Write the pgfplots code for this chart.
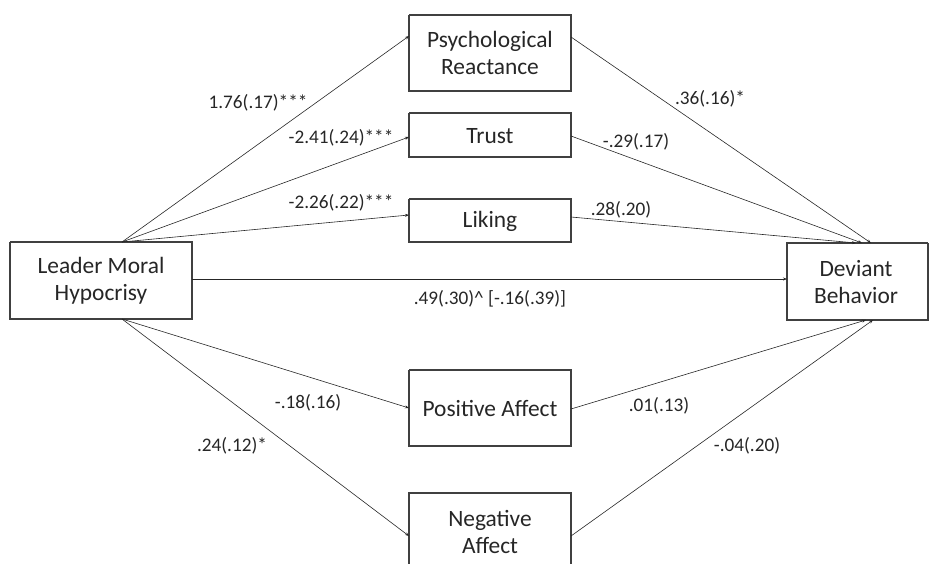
\documentclass[border=0pt]{standalone}
\usepackage{pgfplots}
\pgfplotsset{compat=1.18}
\usepackage{fontspec}
\setmainfont{Carlito}
\usetikzlibrary{arrows.meta}
\begin{document}
\begin{tikzpicture}
\begin{axis}[
  width=929bp, height=564bp, scale only axis,
  xmin=0, xmax=929, ymin=0, ymax=564, y dir=reverse,
  axis lines=none, ticks=none, clip=false,
]
% frame of the picture (invisible)
\addplot[draw=none, mark=none] coordinates {(0,0) (929,564)};
% boxes
\pgfplotsset{box/.style={color=black!75, line width=1.1pt, mark=none}}
\addplot[box] coordinates {(10,242) (192,242) (192,319) (10,319) (10,242)};
\addplot[box] coordinates {(409,15) (571,15) (571,91) (409,91) (409,15)};
\addplot[box] coordinates {(409,113) (571,113) (571,157) (409,157) (409,113)};
\addplot[box] coordinates {(409,199) (571,199) (571,242) (409,242) (409,199)};
\addplot[box] coordinates {(409,370) (571,370) (571,446) (409,446) (409,370)};
\addplot[box] coordinates {(409,563.5) (409,493) (571,493) (571,563.5)};
\addplot[box] coordinates {(928,243) (787,243) (787,320) (928,320) (928,243)};
% arrows
\pgfplotsset{arr/.style={color=black!85, line width=0.6pt, mark=none, -{Stealth[length=4pt,width=3pt]}}}
\addplot[arr] coordinates {(122,242) (409,36)};
\addplot[arr] coordinates {(122,242) (409,137)};
\addplot[arr] coordinates {(122,242) (409,215)};
\addplot[arr] coordinates {(192,279) (787,279)};
\addplot[arr] coordinates {(122,319) (409,408)};
\addplot[arr] coordinates {(122,319) (409,536)};
\addplot[arr] coordinates {(571,37) (871,243)};
\addplot[arr] coordinates {(571,136) (862,243)};
\addplot[arr] coordinates {(571,217) (856,243)};
\addplot[arr] coordinates {(571,409) (866,320)};
\addplot[arr] coordinates {(571,536) (873,320)};
% box texts
\tikzset{bt/.style={align=center, font=\fontsize{23.5}{27.5}\selectfont, text=black!85, inner sep=0pt}}
\node[bt] at (axis cs:101,281) {Leader Moral\\Hypocrisy};
\node[bt] at (axis cs:490,53) {Psychological\\Reactance};
\node[bt] at (axis cs:490,136) {Trust};
\node[bt] at (axis cs:490,221) {Liking};
\node[bt] at (axis cs:490,408) {Positive Affect};
\node[bt] at (axis cs:490,532) {Negative\\Affect};
\node[bt] at (axis cs:856,282) {Deviant\\Behavior};
% edge labels
\tikzset{el/.style={font=\fontsize{19.3}{23}\selectfont, text=black!85, inner sep=0pt}}
\node[el] at (axis cs:258,103) {1.76(.17)***};
\node[el] at (axis cs:341,138) {-2.41(.24)***};
\node[el] at (axis cs:341,203) {-2.26(.22)***};
\node[el] at (axis cs:710,99) {.36(.16)*};
\node[el] at (axis cs:636,142) {-.29(.17)};
\node[el] at (axis cs:621,210) {.28(.20)};
\node[el] at (axis cs:490,299) {.49(.30)\^{} [-.16(.39)]};
\node[el] at (axis cs:308,403) {-.18(.16)};
\node[el] at (axis cs:232,446) {.24(.12)*};
\node[el] at (axis cs:659,406) {.01(.13)};
\node[el] at (axis cs:747,446) {-.04(.20)};
\end{axis}
\end{tikzpicture}
\end{document}
